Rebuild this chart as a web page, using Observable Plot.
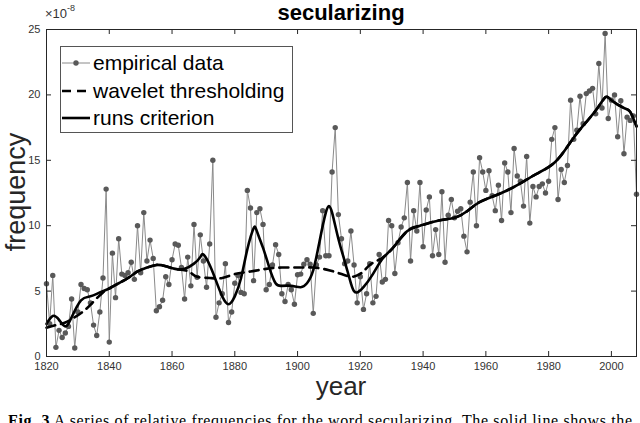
<!DOCTYPE html>
<html><head><meta charset="utf-8">
<script src="https://cdn.jsdelivr.net/npm/d3@7"></script>
<script src="https://cdn.jsdelivr.net/npm/@observablehq/plot@0.6"></script>
<style>body{margin:0;background:#fff;overflow:hidden} svg{display:block}</style>
</head><body><div id="chart"></div>
<script>
// ---- data ----
const startYear = 1820;
const empirical = [
5.56,2.5,6.2,0.7,2.0,1.45,1.8,2.3,4.4,0.65,
3.4,5.5,5.2,5.1,4.1,2.4,1.6,3.4,6.0,12.8,
1.1,7.9,4.5,9.0,6.3,6.2,6.4,7.2,5.9,10.0,
6.4,11.0,7.3,8.9,7.5,3.5,3.8,4.3,6.1,5.5,
7.4,8.6,8.5,6.8,4.4,7.6,5.4,10.1,6.05,9.3,
7.3,5.3,8.6,15.0,3.0,4.1,4.8,7.1,2.6,3.4,
5.6,6.2,4.9,4.8,12.7,11.35,5.8,11.0,11.3,10.1,
5.1,5.5,7.0,8.55,7.8,4.8,4.2,5.5,5.1,4.0,
6.25,6.3,7.06,7.4,7.06,3.3,7.0,7.6,11.15,7.7,
7.7,14.1,17.5,10.85,9.0,7.1,7.3,9.6,7.0,4.1,
6.1,3.6,4.8,7.1,4.1,4.6,7.8,5.7,5.9,10.4,
10.0,6.35,8.7,9.9,10.6,13.3,7.3,11.15,9.6,13.3,
8.4,11.2,12.2,7.7,9.7,7.8,12.6,7.2,10.8,12.0,
10.6,11.1,11.3,9.2,8.0,11.8,14.1,10.0,15.2,14.1,
12.7,14.2,12.3,11.15,13.1,10.4,14.8,14.1,11.0,15.9,
13.8,13.4,11.5,15.3,10.2,13.0,12.2,13.0,13.2,12.5,
13.4,16.6,17.5,12.0,14.3,13.3,14.6,19.6,16.6,17.3,
19.9,17.8,20.1,20.3,20.5,18.55,22.4,19.0,24.7,18.2,
19.6,20.0,16.8,19.55,15.5,18.3,18.05,18.4,12.4
];
const years = empirical.map((_, i) => startYear + i);

const waveletYears  = [1820,1823,1826,1829,1832,1835,1838,1840,1843,1846,1849,1852,1855,1858,1861,1864,1866,1868,1872,1876,1880,1885,1890,1895,1900,1905,1910,1914,1917,1919,1921,1923,1926,1930,1935,1939,1945,1950,1954,1958,1964,1970,1976,1982,1987,1991,1995,1998,2000,2004,2006,2008];
const waveletValues = [2.2,2.4,2.6,3.0,3.5,4.2,4.9,5.2,5.6,6.0,6.5,6.8,7.0,6.9,6.7,6.6,6.4,6.1,6.0,6.0,6.3,6.5,6.7,6.8,6.8,6.8,6.6,6.3,6.1,6.2,6.5,7.0,7.4,8.2,9.6,10.0,10.4,10.6,11.1,11.8,12.4,13.1,13.95,14.85,16.4,17.65,18.8,19.8,19.6,19.0,18.7,17.6];

const runsYears  = [1820,1822,1824,1826,1828,1831,1834,1837,1840,1843,1846,1849,1852,1855,1858,1861,1864,1867,1869,1870,1872,1874,1876,1878,1880,1882,1884,1886,1887,1889,1891,1893,1895,1898,1901,1903,1905,1907,1909,1910,1911,1913,1915,1917,1918,1919,1921,1924,1927,1930,1932,1935,1939,1945,1950,1954,1958,1964,1970,1976,1982,1987,1991,1995,1998,2000,2004,2006,2008];
const runsValues = [2.5,3.1,2.8,2.3,3.0,4.3,4.6,4.9,5.2,5.6,6.0,6.5,6.8,7.0,6.9,6.7,6.7,7.1,7.6,7.8,7.0,5.8,4.6,4.0,4.6,6.0,8.2,9.8,9.6,8.3,6.8,5.6,5.4,5.4,5.3,5.6,6.6,8.8,11.0,11.5,11.0,9.0,7.3,5.6,5.0,4.9,5.3,6.3,7.45,8.2,8.8,9.6,10.0,10.4,10.6,11.1,11.8,12.4,13.1,13.95,14.85,16.4,17.65,18.8,19.8,19.6,19.0,18.7,17.6];

const xTicks = [1820,1840,1860,1880,1900,1920,1940,1960,1980,2000];
const yTicks = [0,5,10,15,20,25];
const legendLabels = ["empirical data","wavelet thresholding","runs criterion"];
const titleText = "secularizing";
const xLabel = "year", yLabel = "frequency";
const captionBold = "Fig. 3", captionRest = " A series of relative frequencies for the word secularizing. The solid line shows the";

// ---- tables ----
const empData = years.map((y, i) => ({year: y, v: empirical[i]}));
const wavData = waveletYears.map((y, i) => ({year: y, v: waveletValues[i]}));
const runData = runsYears.map((y, i) => ({year: y, v: runsValues[i]}));

const W = 640, H = 423, mt = 29, mr = 4, mb = 67, ml = 46;
const innerW = W - ml - mr, innerH = H - mt - mb;
const axisColor = "#262626";

const chart = Plot.plot({
  width: W, height: H,
  marginTop: mt, marginRight: mr, marginBottom: mb, marginLeft: ml,
  style: {fontFamily: "'Liberation Sans', Arial, sans-serif", background: "#fff", overflow: "visible"},
  x: {domain: [1820, 2008]},
  y: {domain: [0, 25]},
  marks: [
    Plot.line(empData, {x: "year", y: "v", stroke: "#8a8a8a", strokeWidth: 1}),
    Plot.dot(empData, {x: "year", y: "v", r: 2.7, fill: "#595959", stroke: "none"}),
    Plot.line(wavData, {x: "year", y: "v", stroke: "#000", strokeWidth: 2.6, strokeDasharray: "9,6", curve: "natural"}),
    Plot.line(runData, {x: "year", y: "v", stroke: "#000", strokeWidth: 2.6, curve: "natural"}),
    Plot.frame({stroke: axisColor, strokeWidth: 1}),
    Plot.tickX(xTicks, {x: d => d, insetTop: innerH - 5, stroke: axisColor}),
    Plot.tickX(xTicks, {x: d => d, insetBottom: innerH - 5, stroke: axisColor}),
    Plot.tickY(yTicks, {y: d => d, insetRight: innerW - 5, stroke: axisColor}),
    Plot.tickY(yTicks, {y: d => d, insetLeft: innerW - 5, stroke: axisColor}),
    Plot.axisX(xTicks, {tickSize: 0, tickPadding: 6, fontSize: 11, tickFormat: d => String(d), fill: "#333", label: null}),
    Plot.axisY(yTicks, {tickSize: 0, tickPadding: 6, fontSize: 11, fill: "#333", label: null})
  ]
});
document.getElementById("chart").appendChild(chart);

// ---- annotations (title, exponent, axis labels, legend, caption) ----
const svg = d3.select(chart);
const cx = ml + innerW / 2;
svg.append("text").attr("x", cx).attr("y", 20).attr("text-anchor", "middle")
  .attr("font-size", 22).attr("font-weight", "bold").attr("fill", "#000").text(titleText);

const ex = svg.append("text").attr("x", 45).attr("y", 18).attr("text-anchor", "start")
  .attr("font-size", 13).attr("fill", "#333");
ex.append("tspan").text("\u00d710");
ex.append("tspan").attr("font-size", 9).attr("dy", -7).text("-8");

svg.append("text").attr("x", cx).attr("y", 395).attr("text-anchor", "middle")
  .attr("font-size", 26).attr("fill", "#262626").text(xLabel);
svg.append("text").attr("transform", "translate(25,192) rotate(-90)").attr("text-anchor", "middle")
  .attr("font-size", 27).attr("fill", "#262626").text(yLabel);

// legend
const lg = svg.append("g").attr("text-anchor", "start");
lg.append("rect").attr("x", 60.5).attr("y", 46.5).attr("width", 232).attr("height", 86)
  .attr("fill", "#fff").attr("stroke", "#555").attr("stroke-width", 1);
const rowsY = [63, 91, 118];
const styles = [
  {stroke: "#8a8a8a", w: 1, dash: null, dot: true},
  {stroke: "#000", w: 2.6, dash: "9,6", dot: false},
  {stroke: "#000", w: 2.6, dash: null, dot: false}
];
legendLabels.forEach((lab, i) => {
  const s = styles[i], y = rowsY[i];
  const ln = lg.append("line").attr("x1", 62).attr("x2", 90).attr("y1", y).attr("y2", y)
    .attr("stroke", s.stroke).attr("stroke-width", s.w);
  if (s.dash) ln.attr("stroke-dasharray", s.dash);
  if (s.dot) lg.append("circle").attr("cx", 76).attr("cy", y).attr("r", 2.7).attr("fill", "#595959");
  lg.append("text").attr("x", 93).attr("y", y).attr("dy", "0.35em").attr("font-size", 21)
    .attr("text-anchor", "start").attr("fill", "#000").text(lab);
});

// caption (partially visible at bottom)
const cap = svg.append("text").attr("x", 8).attr("y", 426).attr("text-anchor", "start")
  .attr("font-family", "'Liberation Serif', 'Times New Roman', serif")
  .attr("font-size", 16).attr("fill", "#000").attr("textLength", 624).attr("lengthAdjust", "spacing");
cap.append("tspan").attr("font-weight", "bold").text(captionBold);
cap.append("tspan").text(captionRest);
</script>
</body></html>
